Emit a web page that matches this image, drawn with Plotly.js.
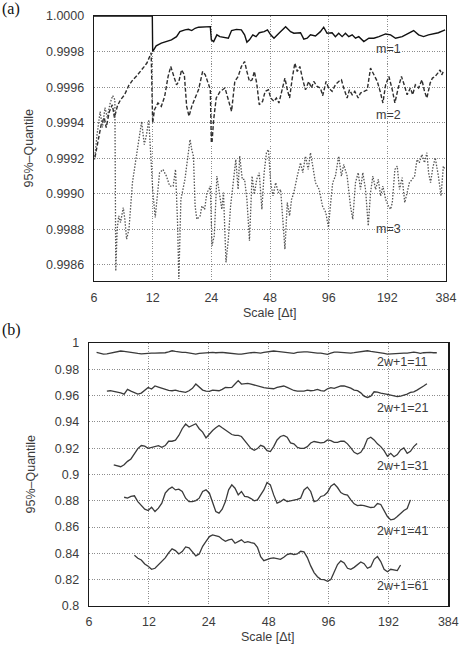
<!DOCTYPE html>
<html>
<head>
<meta charset="utf-8">
<script src="https://cdn.plot.ly/plotly-3.0.1.min.js"></script>
<style>
  html, body { margin: 0; padding: 0; background: #fff; }
  #chart { width: 459px; height: 645px; }
</style>
</head>
<body>
<div id="chart"></div>
<script>
// ---------- (a) 95%-quantile versus scale, embedding dimension m ----------
const scaleM1 = [6, 11.95, 12.0, 12.51, 13.29, 14.11, 14.98, 15.91, 16.55, 17.57,
  18.30, 19.04, 19.81, 20.63, 21.91, 23.71, 24.0, 24.67, 25.63, 26.54,
  29.34, 30.48, 32.30, 34.22, 35.55, 36.54, 37.66, 39.17, 40.69, 42.27,
  44.79, 46.58, 48.40, 50.31, 53.35, 57.72, 61.21, 63.64, 68.84, 71.57,
  74.48, 77.43, 82.11, 87.08, 90.53, 94.20, 99.96, 103.95, 108.10, 112.55,
  117.04, 121.71, 126.74, 131.80, 137.06, 145.43, 154.32, 163.76, 173.79, 188.15,
  199.5, 211.6, 228.8, 247.1, 262.0, 277.8, 294.5, 312.2, 331.0, 351.0, 372.1, 380.0];
const quantM1 = [1.0, 1.0, 0.99980, 0.999832, 0.999847, 0.999856, 0.999866, 0.999884, 0.999912, 0.999922,
  0.999925, 0.999918, 0.999931, 0.999937, 0.999940, 0.999940, 0.999866, 0.999856, 0.999894, 0.999884,
  0.999875, 0.999918, 0.999925, 0.999922, 0.999894, 0.999853, 0.999866, 0.999894, 0.999884, 0.999906,
  0.999912, 0.999922, 0.999894, 0.999875, 0.999903, 0.999940, 0.999912, 0.999903, 0.999906, 0.999870,
  0.999875, 0.999894, 0.999888, 0.999912, 0.999937, 0.999903, 0.999906, 0.999884, 0.999903, 0.999884,
  0.999903, 0.999884, 0.999894, 0.999875, 0.999884, 0.999856, 0.999875, 0.999875, 0.999884, 0.999899,
  0.999894, 0.999875, 0.999884, 0.999903, 0.999918, 0.999894, 0.999884, 0.999894, 0.999899, 0.999906, 0.999918, 0.999922];

const scaleM2 = [6.07, 6.30, 6.53, 6.77, 6.93, 7.19, 7.45, 7.64, 7.92, 8.21,
  8.61, 9.04, 9.49, 9.95, 10.45, 10.83, 11.23, 11.50, 11.79, 12.0,
  12.26, 12.77, 13.29, 13.83, 14.40, 14.86, 15.29, 15.91, 16.35, 16.89,
  17.45, 17.93, 18.44, 19.04, 19.81, 20.63, 21.65, 22.34, 23.27, 23.71,
  24.0, 24.19, 24.67, 25.43, 26.63, 28.21, 29.34, 30.48, 31.67, 32.94,
  34.22, 35.55, 36.54, 37.66, 38.85, 39.90, 41.02, 42.27, 43.97, 45.31,
  47.13, 48.40, 50.31, 51.75, 53.35, 55.07, 57.25, 58.89, 60.50, 62.45,
  64.39, 66.23, 68.29, 70.72, 73.01, 75.89, 78.34, 80.50, 83.77, 87.08,
  89.47, 93.12, 96.0, 99.96, 103.95, 108.10, 111.62, 114.71, 119.42, 122.75,
  126.74, 130.70, 136.09, 139.85, 145.43, 151.41, 157.47, 163.76, 170.52, 177.32,
  182.23, 188.15, 195.6, 203.6, 209.9, 218.3, 226.9, 235.8, 242.6, 252.1,
  259.0, 267.3, 277.8, 289.0, 297.9, 306.4, 318.5, 327.2, 337.7, 348.5,
  358.0, 365.2, 372.1];
const quantM2 = [0.999205, 0.999305, 0.999389, 0.999429, 0.999373, 0.999462, 0.999501, 0.999429, 0.999496, 0.999529,
  0.999557, 0.999608, 0.999641, 0.999664, 0.999697, 0.999714, 0.999737, 0.999765, 0.999793, 0.999399,
  0.999473, 0.999511, 0.999492, 0.999548, 0.999660, 0.999716, 0.999669, 0.999613, 0.999632, 0.999697,
  0.999669, 0.999492, 0.999436, 0.999492, 0.999539, 0.999585, 0.999688, 0.999669, 0.999613, 0.999585,
  0.999289, 0.999287, 0.999417, 0.999539, 0.999576, 0.999595, 0.999529, 0.999464, 0.999632, 0.999660,
  0.999716, 0.999744, 0.999688, 0.999632, 0.999641, 0.999688, 0.999623, 0.999501, 0.999520, 0.999576,
  0.999585, 0.999539, 0.999520, 0.999539, 0.999511, 0.999567, 0.999651, 0.999585, 0.999539, 0.999651,
  0.999735, 0.999688, 0.999716, 0.999641, 0.999585, 0.999632, 0.999595, 0.999632, 0.999604, 0.999595,
  0.999552, 0.999632, 0.999595, 0.999576, 0.999613, 0.999632, 0.999641, 0.999595, 0.999539, 0.999585,
  0.999557, 0.999576, 0.999539, 0.999567, 0.999576, 0.999585, 0.999707, 0.999669, 0.999632, 0.999567,
  0.999511, 0.999613, 0.999660, 0.999585, 0.999511, 0.999595, 0.999660, 0.999604, 0.999557, 0.999595,
  0.999557, 0.999613, 0.999595, 0.999641, 0.999576, 0.999539, 0.999623, 0.999651, 0.999660, 0.999679,
  0.999697, 0.999669, 0.999688];

const scaleM3 = [6.04, 6.22, 6.45, 6.63, 6.83, 7.02, 7.25, 7.48, 7.68, 7.76,
  7.89, 8.04, 8.21, 8.48, 8.64, 8.82, 9.07, 9.45, 9.84, 10.23,
  10.53, 10.87, 11.16, 11.46, 11.79, 12.03, 12.37, 12.67, 13.02, 13.56,
  14.11, 14.68, 15.29, 15.72, 16.10, 16.35, 16.75, 17.57, 18.30, 18.66,
  19.04, 19.43, 19.81, 20.22, 21.03, 21.47, 22.17, 22.79, 23.34, 23.71,
  24.19, 24.85, 25.63, 26.32, 27.16, 27.70, 28.54, 29.34, 30.13, 31.09,
  32.04, 32.94, 33.55, 34.61, 35.55, 36.54, 37.66, 38.85, 39.90, 41.02,
  42.27, 43.61, 44.79, 46.04, 47.13, 48.40, 49.72, 51.33, 52.98, 54.43,
  55.92, 57.25, 58.89, 60.50, 61.93, 63.64, 66.23, 68.84, 70.72, 73.01,
  75.37, 77.43, 79.55, 82.11, 85.77, 89.26, 92.78, 95.77, 97.96, 100.67,
  103.95, 108.10, 111.62, 114.71, 119.42, 124.20, 127.65, 131.80, 136.09, 139.85,
  143.72, 148.40, 153.24, 157.47, 161.83, 167.10, 172.56, 177.32, 182.23, 188.15,
  194.3, 199.5, 203.6, 209.9, 215.8, 221.7, 228.8, 235.8, 242.6, 249.2,
  257.2, 265.1, 272.6, 280.1, 289.0, 297.9, 306.4, 312.6, 320.0, 328.7,
  338.1, 351.0, 362.2, 372.1, 379.5];
const quantM3 = [0.999193, 0.999333, 0.999462, 0.999373, 0.999485, 0.999429, 0.999507, 0.999552, 0.999529, 0.998566,
  0.998801, 0.998876, 0.998839, 0.998923, 0.998857, 0.998745, 0.998801, 0.999063, 0.999193, 0.999305,
  0.999406, 0.999277, 0.999333, 0.999417, 0.999156, 0.999007, 0.998867, 0.999007, 0.999119, 0.999137,
  0.999100, 0.999044, 0.999044, 0.999137, 0.998839, 0.998521, 0.998969, 0.999081, 0.999231, 0.999305,
  0.999249, 0.999212, 0.998932, 0.998857, 0.998876, 0.998932, 0.998913, 0.999007, 0.999025, 0.999044,
  0.998708, 0.998764, 0.999100, 0.999025, 0.998913, 0.999007, 0.998615, 0.998745, 0.998932, 0.999063,
  0.999193, 0.999025, 0.999212, 0.999081, 0.999081, 0.998969, 0.998736, 0.999100, 0.998997, 0.999081,
  0.999119, 0.998913, 0.999119, 0.999231, 0.999249, 0.999063, 0.998988, 0.999063, 0.999007, 0.999025,
  0.998839, 0.998689, 0.998951, 0.998876, 0.998969, 0.999007, 0.999100, 0.999175, 0.999119, 0.999212,
  0.999137, 0.999231, 0.999156, 0.999063, 0.999025, 0.998932, 0.998895, 0.998811, 0.998932, 0.999063,
  0.999100, 0.999212, 0.999100, 0.999165, 0.999100, 0.998932, 0.998857, 0.999063, 0.999119, 0.999025,
  0.999119, 0.999025, 0.998820, 0.999007, 0.999100, 0.999025, 0.999081, 0.998988, 0.999044, 0.998969,
  0.998932, 0.998913, 0.998951, 0.999137, 0.999156, 0.999025, 0.999091, 0.998951, 0.999007, 0.999063,
  0.999081, 0.999100, 0.999193, 0.999175, 0.999221, 0.999175, 0.999231, 0.999119, 0.999063, 0.999147,
  0.999203, 0.999100, 0.998988, 0.999156, 0.999137];

const quantTicksA = [0.9986, 0.9988, 0.9990, 0.9992, 0.9994, 0.9996, 0.9998, 1.0000];
const quantLabelsA = ['0.9986', '0.9988', '0.9990', '0.9992', '0.9994', '0.9996', '0.9998', '1.0000'];

// ---------- (b) 95%-quantile versus scale, window length 2w+1 ----------
const scaleW = [6.55, 6.82, 7.09, 7.38, 7.68, 7.99, 8.32, 8.66, 9.01, 9.37,
  9.75, 10.15, 10.56, 10.99, 11.44, 11.90, 12.38, 12.88, 13.40, 13.94,
  14.50, 15.08, 15.69, 16.32, 16.97, 17.65, 18.36, 19.10, 19.87, 20.66,
  21.49, 22.36, 23.25, 24.18, 25.09, 26.04, 27.02, 28.04, 29.10, 30.20,
  31.34, 32.52, 33.75, 35.03, 36.35, 37.72, 39.15, 40.63, 42.16, 43.75,
  45.40, 47.12, 48.95, 50.88, 52.91, 55.01, 57.19, 59.47, 61.83, 64.28,
  66.83, 69.49, 72.25, 75.12, 78.10, 81.20, 84.42, 87.78, 91.26, 94.88,
  98.62, 102.50, 106.52, 110.70, 115.04, 119.57, 124.25, 129.14, 134.21, 139.47,
  144.94, 150.64, 156.55, 162.69, 169.08, 175.72, 182.61, 189.78, 197.2, 204.8,
  212.8, 221.0, 229.6, 238.6, 247.8, 257.4, 267.4, 277.8, 288.6, 299.8,
  311.4, 323.5, 336.1];

const quantW11 = [0.9928, 0.9921, 0.9916, 0.9918, 0.9923, 0.9928, 0.9933, 0.9939, 0.9936, 0.9931,
  0.9926, 0.9923, 0.9921, 0.9918, 0.9921, 0.9923, 0.9923, 0.9923, 0.9923, 0.9926,
  0.9926, 0.9933, 0.9941, 0.9936, 0.9931, 0.9928, 0.9928, 0.9923, 0.9921, 0.9916,
  0.9921, 0.9923, 0.9928, 0.9931, 0.9928, 0.9926, 0.9928, 0.9928, 0.9926, 0.9923,
  0.9918, 0.9916, 0.9916, 0.9916, 0.9921, 0.9923, 0.9926, 0.9928, 0.9926, 0.9923,
  0.9928, 0.9933, 0.9936, 0.9939, 0.9936, 0.9933, 0.9931, 0.9928, 0.9923, 0.9921,
  0.9928, 0.9933, 0.9933, 0.9933, 0.9928, 0.9926, 0.9923, 0.9923, 0.9918, 0.9913,
  0.9923, 0.9931, 0.9931, 0.9928, 0.9926, 0.9923, 0.9923, 0.9926, 0.9931, 0.9936,
  0.9939, 0.9941, 0.9936, 0.9933, 0.9931, 0.9928, 0.9921, 0.9916, 0.9918, 0.9921,
  0.9923, 0.9923, 0.9923, 0.9923, 0.9928, 0.9931, 0.9926, 0.9921, 0.9926, 0.9928,
  0.9928, 0.9926, 0.9926];

const quantW21 = [null, null, null, 0.9634, 0.9637, 0.9632, 0.9627, 0.9621, 0.9611, 0.9647,
  0.9634, 0.9621, 0.9611, 0.9619, 0.9642, 0.9662, 0.9650, 0.9673, 0.9665, 0.9657,
  0.9647, 0.9639, 0.9637, 0.9642, 0.9634, 0.9629, 0.9624, 0.9637, 0.9655, 0.9688,
  0.9662, 0.9642, 0.9634, 0.9632, 0.9642, 0.9637, 0.9637, 0.9647, 0.9662, 0.9660,
  0.9662, 0.9688, 0.9714, 0.9688, 0.9690, 0.9693, 0.9688, 0.9680, 0.9675, 0.9667,
  0.9660, 0.9657, 0.9652, 0.9652, 0.9662, 0.9670, 0.9673, 0.9662, 0.9650, 0.9639,
  0.9634, 0.9632, 0.9634, 0.9642, 0.9637, 0.9639, 0.9647, 0.9637, 0.9634, 0.9652,
  0.9660, 0.9655, 0.9662, 0.9673, 0.9673, 0.9665, 0.9657, 0.9642, 0.9637, 0.9621,
  0.9596, 0.9586, 0.9596, 0.9629, 0.9627, 0.9619, 0.9616, 0.9609, 0.9604, 0.9601,
  0.9593, 0.9596, 0.9601, 0.9611, 0.9624, 0.9629, 0.9642, 0.9655, 0.9673, 0.9690,
  null, null, null];

const quantW31 = [null, null, null, null, null, 0.9074, 0.9066, 0.9059, 0.9074, 0.9100,
  0.9118, 0.9156, 0.9197, 0.9220, 0.9215, 0.9199, 0.9207, 0.9215, 0.9220, 0.9207,
  0.9220, 0.9253, 0.9253, 0.9261, 0.9297, 0.9348, 0.9384, 0.9361, 0.9373, 0.9386,
  0.9348, 0.9322, 0.9279, 0.9309, 0.9335, 0.9355, 0.9373, 0.9355, 0.9340, 0.9322,
  0.9304, 0.9297, 0.9297, 0.9289, 0.9258, 0.9225, 0.9197, 0.9184, 0.9197, 0.9222,
  0.9212, 0.9181, 0.9174, 0.9212, 0.9263, 0.9289, 0.9297, 0.9284, 0.9240, 0.9233,
  0.9207, 0.9199, 0.9199, 0.9212, 0.9240, 0.9251, 0.9245, 0.9240, 0.9245, 0.9263,
  0.9258, 0.9245, 0.9245, 0.9253, 0.9253, 0.9233, 0.9202, 0.9169, 0.9156, 0.9169,
  0.9207, 0.9271, 0.9284, 0.9263, 0.9233, 0.9212, 0.9181, 0.9138, 0.9161, 0.9135,
  0.9151, 0.9187, 0.9202, 0.9161, 0.9176, 0.9212, 0.9235, null, null, null,
  null, null, null];

const quantW41 = [null, null, null, null, null, null, null, null, 0.8827, 0.8820,
  0.8833, 0.8838, 0.8794, 0.8761, 0.8736, 0.8726, 0.8751, 0.8718, 0.8744, 0.8782,
  0.8858, 0.8888, 0.8904, 0.8883, 0.8888, 0.8871, 0.8820, 0.8794, 0.8794, 0.8802,
  0.8820, 0.8871, 0.8883, 0.8858, 0.8782, 0.8718, 0.8706, 0.8736, 0.8794, 0.8883,
  0.8921, 0.8896, 0.8845, 0.8871, 0.8833, 0.8830, 0.8817, 0.8800, 0.8807, 0.8845,
  0.8883, 0.8939, 0.8921, 0.8845, 0.8782, 0.8794, 0.8812, 0.8794, 0.8802, 0.8805,
  0.8810, 0.8820, 0.8883, 0.8904, 0.8871, 0.8794, 0.8802, 0.8833, 0.8840, 0.8865,
  0.8911, 0.8929, 0.8901, 0.8863, 0.8848, 0.8843, 0.8807, 0.8777, 0.8764, 0.8767,
  0.8764, 0.8756, 0.8749, 0.8751, 0.8779, 0.8772, 0.8731, 0.8680, 0.8655, 0.8660,
  0.8680, 0.8706, 0.8726, 0.8741, 0.8807, null, null, null, null, null,
  null, null, null];

const quantW61 = [null, null, null, null, null, null, null, null, null, null,
  null, 0.8386, 0.8363, 0.8350, 0.8320, 0.8302, 0.8279, 0.8287, 0.8315, 0.8338,
  0.8366, 0.8404, 0.8434, 0.8421, 0.8396, 0.8414, 0.8449, 0.8442, 0.8414, 0.8381,
  0.8396, 0.8454, 0.8492, 0.8528, 0.8541, 0.8536, 0.8528, 0.8508, 0.8492, 0.8503,
  0.8508, 0.8477, 0.8490, 0.8503, 0.8482, 0.8490, 0.8482, 0.8477, 0.8447, 0.8376,
  0.8345, 0.8355, 0.8363, 0.8366, 0.8363, 0.8355, 0.8371, 0.8391, 0.8399, 0.8391,
  0.8396, 0.8416, 0.8411, 0.8368, 0.8305, 0.8254, 0.8223, 0.8203, 0.8201, 0.8188,
  0.8201, 0.8264, 0.8315, 0.8343, 0.8327, 0.8287, 0.8279, 0.8294, 0.8312, 0.8335,
  0.8322, 0.8287, 0.8299, 0.8355, 0.8376, 0.8338, 0.8279, 0.8261, 0.8279, 0.8274,
  0.8269, 0.8312, null, null, null, null, null, null, null, null,
  null, null, null];

const quantTicksB = [0.8, 0.82, 0.84, 0.86, 0.88, 0.9, 0.92, 0.94, 0.96, 0.98, 1];
const quantLabelsB = ['0.8', '0.82', '0.84', '0.86', '0.88', '0.9', '0.92', '0.94', '0.96', '0.98', '1'];

const scaleTicks = [6, 12, 24, 48, 96, 192, 384];
const scaleLabels = ['6', '12', '24', '48', '96', '192', '384'];

// ---------- drawing ----------
const W = 459, H = 645;
const px = v => v / W;
const py = v => 1 - v / H;

const tickFont = { family: 'Liberation Sans, Arial, sans-serif', size: 12.5, color: '#3c3c3c' };
const textFont = { family: 'Liberation Sans, Arial, sans-serif', size: 12.5, color: '#3c3c3c' };
const gridStyle = { showgrid: true, gridcolor: '#8c8c8c', gridwidth: 1, griddash: '1px,1.5px',
  showline: true, linecolor: '#1a1a1a', linewidth: 1.3, mirror: true, zeroline: false,
  ticks: '', tickfont: tickFont, fixedrange: true };

const lineB = { color: '#3a3a3a', width: 1.3 };

const traces = [
  { x: scaleM1, y: quantM1, xaxis: 'x', yaxis: 'y', mode: 'lines',
    line: { color: '#111', width: 1.4 } },
  { x: scaleM2, y: quantM2, xaxis: 'x', yaxis: 'y', mode: 'lines',
    line: { color: '#2e2e2e', width: 1.4, dash: '4px,2px' } },
  { x: scaleM3, y: quantM3, xaxis: 'x', yaxis: 'y', mode: 'lines',
    line: { color: '#555', width: 1.3, dash: '1.5px,1.5px' } },
  { x: scaleW, y: quantW11, xaxis: 'x2', yaxis: 'y2', mode: 'lines', line: lineB },
  { x: scaleW, y: quantW21, xaxis: 'x2', yaxis: 'y2', mode: 'lines', line: lineB },
  { x: scaleW, y: quantW31, xaxis: 'x2', yaxis: 'y2', mode: 'lines', line: lineB },
  { x: scaleW, y: quantW41, xaxis: 'x2', yaxis: 'y2', mode: 'lines', line: lineB },
  { x: scaleW, y: quantW61, xaxis: 'x2', yaxis: 'y2', mode: 'lines', line: lineB }
];

const note = (text, x, y, extra) => Object.assign({
  text: text, x: x, y: y, xref: 'paper', yref: 'paper', showarrow: false,
  xanchor: 'center', yanchor: 'middle', font: textFont
}, extra || {});

const layout = {
  width: W, height: H,
  margin: { l: 0, r: 0, t: 0, b: 0 },
  paper_bgcolor: '#fff', plot_bgcolor: '#fff',
  showlegend: false,
  xaxis: Object.assign({}, gridStyle, {
    domain: [px(94), px(446)], anchor: 'y', type: 'log',
    range: [Math.log10(6), Math.log10(384)],
    tickvals: scaleTicks, ticktext: scaleLabels, ticklabelstandoff: 5
  }),
  yaxis: Object.assign({}, gridStyle, {
    domain: [py(281), py(16)], anchor: 'x',
    range: [0.99851, 1.0],
    tickvals: quantTicksA, ticktext: quantLabelsA, ticklabelstandoff: 6
  }),
  xaxis2: Object.assign({}, gridStyle, {
    domain: [px(89), px(448.3)], anchor: 'y2', type: 'log',
    range: [Math.log10(6), Math.log10(384)],
    tickvals: scaleTicks, ticktext: scaleLabels, ticklabelstandoff: 4
  }),
  yaxis2: Object.assign({}, gridStyle, {
    domain: [py(606), py(343)], anchor: 'x2',
    range: [0.8, 1.0],
    tickvals: quantTicksB, ticktext: quantLabelsB, ticklabelstandoff: 6
  }),
  annotations: [
    note('(a)', px(0), py(9), { xanchor: 'left',
      font: { family: 'Liberation Serif, Times New Roman, serif', size: 16, color: '#111' } }),
    note('(b)', px(0), py(330), { xanchor: 'left',
      font: { family: 'Liberation Serif, Times New Roman, serif', size: 16, color: '#111' } }),
    note('Scale [Δt]', px(270), py(313)),
    note('Scale [Δt]', px(268), py(637)),
    note('95%–Quantile', px(28), py(148.5), { textangle: -90 }),
    note('95%–Quantile', px(30), py(474.5), { textangle: -90 }),
    note('m=1', px(388), py(49)),
    note('m=2', px(388), py(115)),
    note('m=3', px(388), py(229)),
    note('2w+1=11', px(402), py(361.5)),
    note('2w+1=21', px(402), py(407.5)),
    note('2w+1=31', px(402), py(466)),
    note('2w+1=41', px(402), py(531)),
    note('2w+1=61', px(402), py(586))
  ]
};

Plotly.newPlot('chart', traces, layout, { staticPlot: true, displayModeBar: false });
</script>
</body>
</html>
